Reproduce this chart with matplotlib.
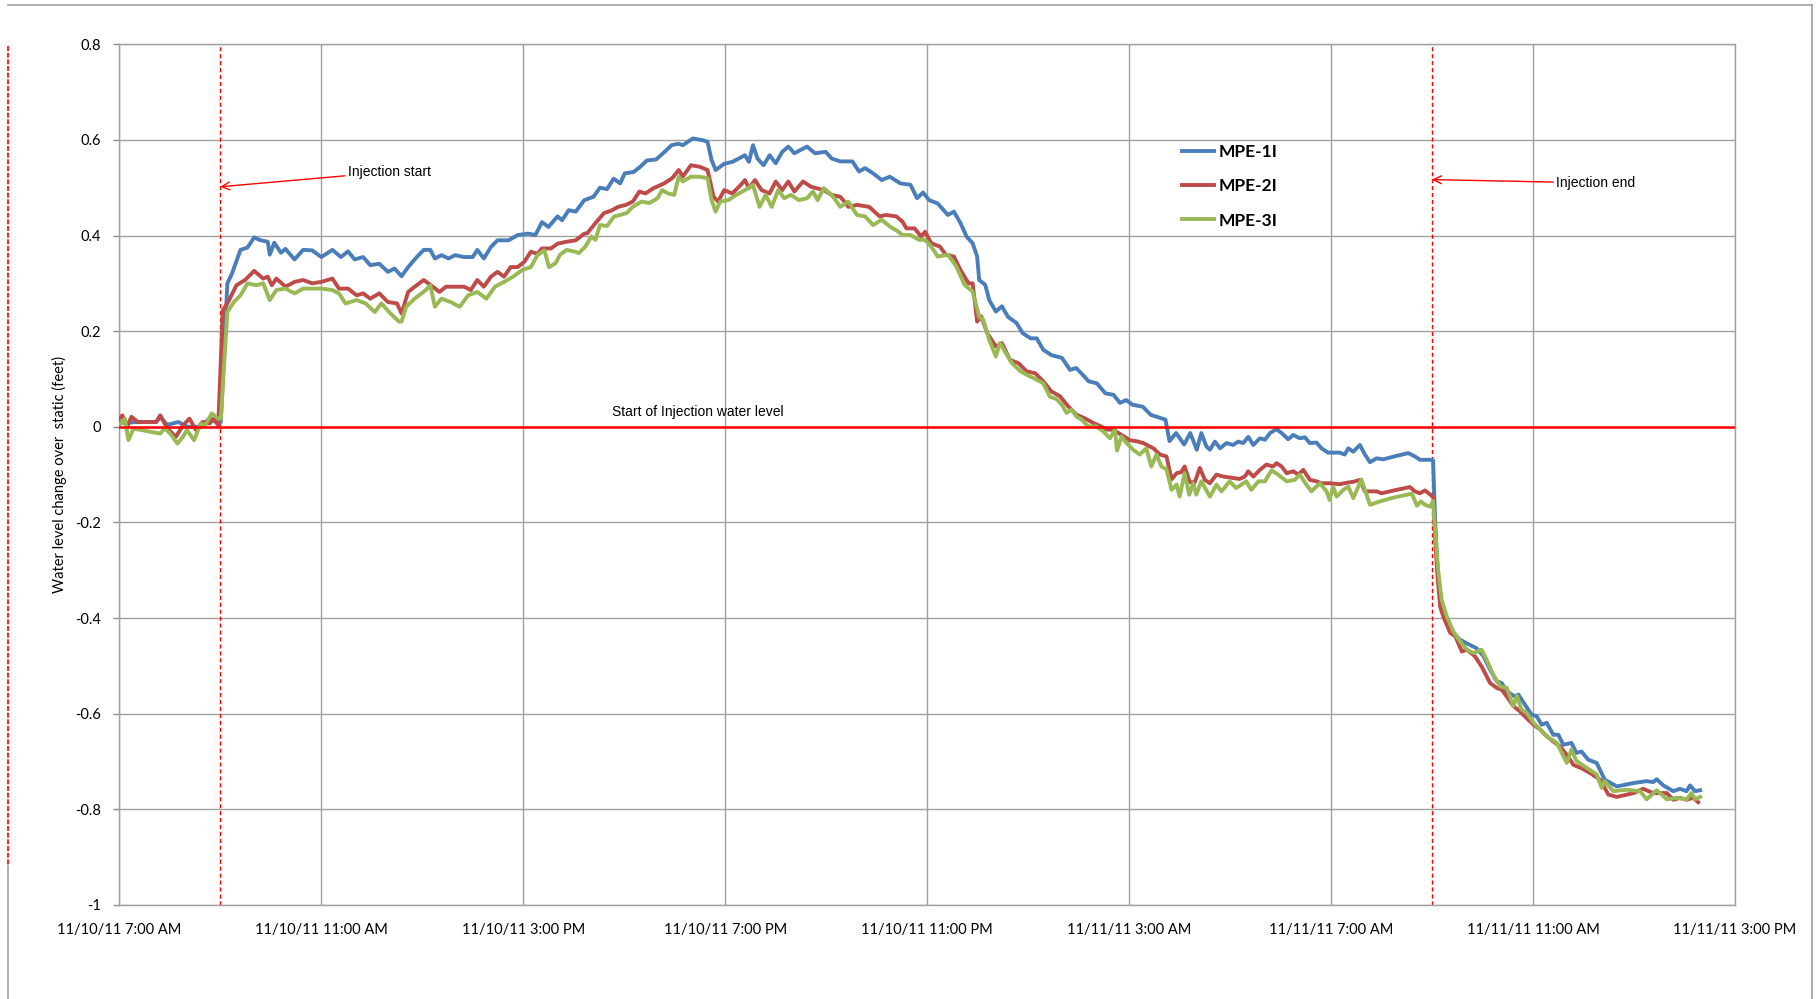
import matplotlib
matplotlib.use("Agg")
import matplotlib.pyplot as plt
import matplotlib.dates as mdates
from matplotlib.lines import Line2D
import numpy as np
import pandas as pd

# hours after 11/10/11 7:00 AM
start = pd.Timestamp("2011-11-10 07:00")

mpe1_hours = [0.00, 0.15, 0.28, 0.73, 0.81, 0.95, 1.17, 1.35, 1.61, 1.79, 1.96, 2.01, 2.14, 2.23, 2.40, 2.54, 2.67, 2.80, 2.94, 2.98, 3.07, 3.20, 3.29, 3.47, 3.64, 3.82, 4.00, 4.22, 4.39, 4.53, 4.66, 4.83, 4.97, 5.15, 5.32, 5.45, 5.59, 5.72, 5.90, 6.03, 6.16, 6.25, 6.38, 6.52, 6.65, 6.83, 7.00, 7.09, 7.22, 7.36, 7.49, 7.71, 7.89, 8.10, 8.24, 8.37, 8.50, 8.68, 8.77, 8.90, 9.04, 9.21, 9.39, 9.52, 9.66, 9.79, 9.92, 10.01, 10.19, 10.32, 10.45, 10.63, 10.80, 10.94, 11.07, 11.16, 11.36, 11.57, 11.65, 11.73, 11.81, 11.98, 12.14, 12.27, 12.39, 12.47, 12.55, 12.64, 12.76, 12.88, 13.00, 13.13, 13.25, 13.37, 13.62, 13.78, 13.99, 14.11, 14.28, 14.52, 14.65, 14.77, 14.93, 15.10, 15.26, 15.47, 15.67, 15.80, 15.92, 16.04, 16.21, 16.41, 16.53, 16.66, 16.78, 16.90, 16.99, 17.03, 17.15, 17.23, 17.36, 17.48, 17.60, 17.77, 17.89, 18.05, 18.17, 18.30, 18.46, 18.67, 18.83, 18.95, 19.08, 19.20, 19.36, 19.53, 19.69, 19.82, 19.94, 20.07, 20.27, 20.43, 20.72, 20.80, 20.93, 21.09, 21.21, 21.34, 21.43, 21.53, 21.60, 21.70, 21.80, 21.93, 22.06, 22.16, 22.26, 22.36, 22.46, 22.59, 22.69, 22.79, 22.92, 23.02, 23.15, 23.25, 23.38, 23.48, 23.58, 23.71, 23.81, 23.94, 24.17, 24.27, 24.34, 24.44, 24.57, 24.67, 24.77, 24.90, 25.03, 25.29, 25.53, 25.66, 25.76, 25.99, 26.02, 26.06, 26.09, 26.12, 26.19, 26.29, 26.42, 26.55, 26.69, 26.88, 27.02, 27.15, 27.28, 27.38, 27.48, 27.64, 27.71, 27.84, 27.97, 28.07, 28.17, 28.27, 28.40, 28.50, 28.60, 28.76, 28.86, 28.96, 29.09, 29.26, 29.42, 29.66, 29.99, 30.25, 30.38, 30.45, 30.58, 30.78, 30.91, 31.04, 31.11, 31.21, 31.31]
mpe1_vals = [0.010, 0.007, 0.010, 0.010, 0.021, 0.004, 0.010, 0.000, 0.000, 0.018, 0.007, 0.010, 0.300, 0.320, 0.370, 0.375, 0.396, 0.390, 0.387, 0.360, 0.385, 0.364, 0.372, 0.350, 0.370, 0.369, 0.355, 0.370, 0.355, 0.367, 0.350, 0.355, 0.338, 0.341, 0.324, 0.331, 0.315, 0.334, 0.356, 0.370, 0.370, 0.352, 0.359, 0.352, 0.359, 0.355, 0.355, 0.370, 0.352, 0.376, 0.390, 0.390, 0.401, 0.404, 0.401, 0.428, 0.418, 0.440, 0.432, 0.453, 0.450, 0.474, 0.481, 0.500, 0.497, 0.519, 0.509, 0.530, 0.533, 0.544, 0.557, 0.559, 0.575, 0.589, 0.592, 0.589, 0.603, 0.599, 0.596, 0.558, 0.537, 0.550, 0.554, 0.561, 0.568, 0.554, 0.589, 0.561, 0.547, 0.568, 0.551, 0.575, 0.586, 0.572, 0.586, 0.572, 0.575, 0.561, 0.555, 0.555, 0.534, 0.541, 0.530, 0.516, 0.523, 0.509, 0.506, 0.478, 0.490, 0.474, 0.467, 0.443, 0.450, 0.426, 0.398, 0.384, 0.356, 0.307, 0.297, 0.265, 0.241, 0.252, 0.230, 0.217, 0.196, 0.185, 0.185, 0.161, 0.150, 0.144, 0.119, 0.123, 0.109, 0.095, 0.091, 0.070, 0.067, 0.050, 0.056, 0.046, 0.042, 0.025, 0.015, -0.030, -0.013, -0.037, -0.013, -0.048, -0.013, -0.041, -0.048, -0.031, -0.045, -0.034, -0.038, -0.031, -0.034, -0.021, -0.038, -0.024, -0.027, -0.013, -0.005, -0.013, -0.026, -0.017, -0.024, -0.022, -0.034, -0.033, -0.045, -0.054, -0.054, -0.058, -0.045, -0.052, -0.038, -0.058, -0.074, -0.066, -0.068, -0.061, -0.055, -0.062, -0.069, -0.069, -0.070, -0.194, -0.264, -0.313, -0.376, -0.403, -0.431, -0.445, -0.453, -0.463, -0.480, -0.508, -0.532, -0.536, -0.553, -0.564, -0.560, -0.581, -0.602, -0.605, -0.623, -0.619, -0.644, -0.644, -0.665, -0.661, -0.682, -0.679, -0.696, -0.703, -0.738, -0.752, -0.745, -0.741, -0.743, -0.737, -0.750, -0.762, -0.757, -0.762, -0.750, -0.762, -0.760]

mpe2_hours = [0.00, 0.06, 0.15, 0.24, 0.37, 0.73, 0.81, 0.95, 1.12, 1.26, 1.39, 1.52, 1.65, 1.79, 1.87, 1.96, 2.05, 2.14, 2.32, 2.49, 2.67, 2.85, 2.94, 3.02, 3.11, 3.29, 3.47, 3.64, 3.82, 4.00, 4.22, 4.35, 4.53, 4.70, 4.83, 4.97, 5.15, 5.32, 5.50, 5.59, 5.72, 5.85, 6.03, 6.21, 6.34, 6.47, 6.65, 6.83, 6.96, 7.09, 7.22, 7.36, 7.49, 7.62, 7.75, 7.89, 8.02, 8.15, 8.28, 8.37, 8.55, 8.68, 8.86, 9.04, 9.21, 9.27, 9.43, 9.60, 9.74, 9.88, 10.03, 10.17, 10.30, 10.42, 10.58, 10.79, 10.95, 11.08, 11.16, 11.32, 11.49, 11.65, 11.77, 11.86, 11.98, 12.14, 12.31, 12.39, 12.47, 12.59, 12.72, 12.88, 13.00, 13.13, 13.25, 13.37, 13.54, 13.70, 13.95, 14.11, 14.28, 14.36, 14.44, 14.61, 14.85, 15.06, 15.18, 15.39, 15.51, 15.59, 15.75, 15.88, 15.96, 16.08, 16.25, 16.37, 16.53, 16.66, 16.82, 16.90, 16.99, 17.07, 17.19, 17.36, 17.48, 17.64, 17.81, 17.97, 18.14, 18.30, 18.46, 18.63, 18.79, 18.96, 19.12, 19.29, 19.42, 19.57, 19.68, 19.88, 20.01, 20.14, 20.28, 20.48, 20.61, 20.74, 20.84, 20.94, 21.03, 21.10, 21.20, 21.30, 21.40, 21.50, 21.60, 21.73, 21.86, 22.06, 22.19, 22.29, 22.36, 22.46, 22.59, 22.72, 22.85, 22.92, 23.02, 23.12, 23.25, 23.35, 23.45, 23.58, 23.71, 23.81, 23.97, 24.17, 24.31, 24.44, 24.57, 24.67, 24.90, 25.00, 25.29, 25.56, 25.66, 25.76, 25.86, 25.99, 26.03, 26.06, 26.10, 26.16, 26.22, 26.36, 26.46, 26.59, 26.69, 26.85, 26.98, 27.15, 27.28, 27.38, 27.48, 27.61, 27.74, 27.87, 28.01, 28.14, 28.27, 28.40, 28.53, 28.67, 28.80, 28.96, 29.13, 29.33, 29.49, 29.66, 29.99, 30.18, 30.38, 30.65, 30.78, 30.91, 31.04, 31.17, 31.27]
mpe2_vals = [0.017, 0.024, 0.000, 0.021, 0.010, 0.010, 0.024, -0.003, -0.021, 0.003, 0.017, -0.007, 0.010, 0.007, 0.017, 0.003, 0.244, 0.258, 0.296, 0.307, 0.326, 0.310, 0.314, 0.296, 0.310, 0.293, 0.303, 0.307, 0.300, 0.303, 0.310, 0.289, 0.289, 0.275, 0.279, 0.268, 0.279, 0.261, 0.258, 0.237, 0.282, 0.293, 0.307, 0.293, 0.282, 0.293, 0.293, 0.293, 0.286, 0.307, 0.293, 0.314, 0.324, 0.314, 0.334, 0.334, 0.345, 0.366, 0.362, 0.373, 0.373, 0.383, 0.387, 0.390, 0.404, 0.405, 0.426, 0.447, 0.452, 0.460, 0.464, 0.471, 0.492, 0.488, 0.499, 0.509, 0.520, 0.537, 0.523, 0.547, 0.544, 0.537, 0.481, 0.471, 0.495, 0.488, 0.506, 0.516, 0.499, 0.516, 0.495, 0.488, 0.513, 0.495, 0.513, 0.492, 0.513, 0.502, 0.495, 0.485, 0.481, 0.471, 0.460, 0.464, 0.460, 0.440, 0.443, 0.440, 0.429, 0.415, 0.415, 0.398, 0.408, 0.384, 0.377, 0.360, 0.356, 0.328, 0.300, 0.300, 0.220, 0.231, 0.196, 0.168, 0.175, 0.140, 0.133, 0.116, 0.112, 0.095, 0.074, 0.064, 0.043, 0.025, 0.018, 0.008, 0.002, -0.006, -0.006, -0.019, -0.028, -0.030, -0.034, -0.045, -0.058, -0.062, -0.110, -0.097, -0.095, -0.083, -0.116, -0.116, -0.086, -0.111, -0.118, -0.100, -0.104, -0.107, -0.109, -0.104, -0.093, -0.104, -0.090, -0.079, -0.083, -0.076, -0.083, -0.097, -0.093, -0.100, -0.090, -0.111, -0.114, -0.118, -0.118, -0.120, -0.117, -0.115, -0.111, -0.135, -0.135, -0.139, -0.132, -0.126, -0.135, -0.139, -0.133, -0.144, -0.149, -0.230, -0.300, -0.376, -0.396, -0.431, -0.438, -0.470, -0.466, -0.480, -0.501, -0.536, -0.546, -0.550, -0.564, -0.584, -0.595, -0.609, -0.623, -0.633, -0.647, -0.658, -0.668, -0.686, -0.707, -0.714, -0.724, -0.738, -0.769, -0.774, -0.766, -0.757, -0.766, -0.766, -0.780, -0.776, -0.780, -0.776, -0.785]

mpe3_hours = [0.00, 0.11, 0.18, 0.28, 0.46, 0.64, 0.81, 0.90, 1.03, 1.15, 1.26, 1.34, 1.48, 1.61, 1.70, 1.83, 1.96, 2.01, 2.14, 2.27, 2.40, 2.54, 2.71, 2.85, 2.98, 3.11, 3.29, 3.47, 3.64, 4.00, 4.22, 4.35, 4.48, 4.70, 4.88, 5.06, 5.19, 5.37, 5.54, 5.59, 5.68, 5.85, 6.07, 6.16, 6.25, 6.38, 6.56, 6.74, 6.91, 7.09, 7.27, 7.44, 7.62, 7.80, 7.98, 8.15, 8.28, 8.42, 8.51, 8.64, 8.73, 8.86, 9.04, 9.10, 9.23, 9.35, 9.43, 9.52, 9.66, 9.80, 9.92, 10.05, 10.17, 10.34, 10.50, 10.66, 10.75, 10.87, 10.99, 11.08, 11.16, 11.32, 11.49, 11.65, 11.73, 11.81, 11.90, 12.06, 12.22, 12.39, 12.55, 12.68, 12.80, 12.92, 13.05, 13.17, 13.30, 13.46, 13.62, 13.74, 13.83, 13.95, 14.11, 14.28, 14.44, 14.61, 14.77, 14.93, 15.10, 15.26, 15.43, 15.51, 15.67, 15.84, 15.96, 16.08, 16.21, 16.41, 16.58, 16.74, 16.90, 17.03, 17.11, 17.23, 17.36, 17.44, 17.56, 17.68, 17.85, 17.97, 18.18, 18.30, 18.43, 18.56, 18.67, 18.76, 18.86, 18.96, 19.05, 19.19, 19.35, 19.49, 19.62, 19.72, 19.76, 19.85, 19.95, 20.08, 20.21, 20.34, 20.44, 20.54, 20.64, 20.74, 20.84, 20.94, 21.00, 21.10, 21.19, 21.27, 21.33, 21.43, 21.60, 21.73, 21.83, 21.99, 22.12, 22.32, 22.42, 22.56, 22.69, 22.82, 22.95, 23.12, 23.28, 23.38, 23.51, 23.61, 23.78, 23.91, 23.97, 24.04, 24.11, 24.24, 24.34, 24.44, 24.60, 24.77, 24.97, 25.20, 25.50, 25.60, 25.70, 25.78, 25.86, 25.96, 26.02, 26.06, 26.12, 26.19, 26.29, 26.42, 26.55, 26.69, 26.82, 26.98, 27.08, 27.21, 27.35, 27.48, 27.61, 27.68, 27.77, 27.87, 28.01, 28.14, 28.27, 28.47, 28.67, 28.76, 28.86, 29.06, 29.26, 29.36, 29.42, 29.59, 29.85, 30.12, 30.25, 30.45, 30.65, 30.84, 31.04, 31.14, 31.21, 31.31]
mpe3_vals = [0.003, 0.017, -0.028, -0.004, -0.007, -0.011, -0.014, -0.003, -0.017, -0.035, -0.021, -0.007, -0.028, 0.007, 0.003, 0.028, 0.017, 0.017, 0.240, 0.261, 0.275, 0.300, 0.296, 0.300, 0.265, 0.286, 0.289, 0.279, 0.289, 0.289, 0.286, 0.279, 0.258, 0.265, 0.258, 0.240, 0.258, 0.237, 0.220, 0.220, 0.251, 0.268, 0.286, 0.296, 0.251, 0.268, 0.261, 0.251, 0.275, 0.282, 0.268, 0.293, 0.303, 0.314, 0.328, 0.334, 0.359, 0.369, 0.334, 0.342, 0.360, 0.370, 0.366, 0.363, 0.377, 0.398, 0.391, 0.422, 0.420, 0.440, 0.443, 0.447, 0.460, 0.471, 0.468, 0.478, 0.495, 0.488, 0.485, 0.523, 0.513, 0.523, 0.523, 0.520, 0.474, 0.450, 0.471, 0.474, 0.485, 0.495, 0.506, 0.460, 0.485, 0.460, 0.495, 0.478, 0.485, 0.474, 0.478, 0.492, 0.474, 0.499, 0.485, 0.460, 0.471, 0.443, 0.440, 0.422, 0.433, 0.419, 0.408, 0.401, 0.401, 0.391, 0.391, 0.377, 0.356, 0.360, 0.335, 0.297, 0.283, 0.230, 0.224, 0.182, 0.147, 0.175, 0.154, 0.133, 0.116, 0.109, 0.098, 0.091, 0.063, 0.058, 0.046, 0.029, 0.036, 0.021, 0.016, 0.001, 0.001, -0.010, -0.024, -0.006, -0.050, -0.020, -0.034, -0.048, -0.058, -0.045, -0.083, -0.058, -0.083, -0.089, -0.132, -0.121, -0.146, -0.097, -0.142, -0.118, -0.142, -0.114, -0.146, -0.121, -0.135, -0.114, -0.128, -0.114, -0.132, -0.114, -0.114, -0.091, -0.100, -0.114, -0.111, -0.100, -0.121, -0.135, -0.118, -0.135, -0.153, -0.125, -0.146, -0.132, -0.125, -0.149, -0.110, -0.163, -0.156, -0.149, -0.142, -0.140, -0.165, -0.156, -0.163, -0.167, -0.155, -0.215, -0.299, -0.362, -0.396, -0.428, -0.448, -0.466, -0.473, -0.466, -0.487, -0.518, -0.543, -0.546, -0.584, -0.563, -0.591, -0.598, -0.619, -0.633, -0.647, -0.661, -0.703, -0.675, -0.699, -0.713, -0.727, -0.755, -0.741, -0.762, -0.759, -0.762, -0.779, -0.760, -0.779, -0.776, -0.779, -0.766, -0.779, -0.774]

series_names = ["MPE-1I", "MPE-2I", "MPE-3I"]
series_colors = ["#4A7EBB", "#BE4B48", "#98B954"]
injection_start_h = 2
injection_end_h = 26
y_ticks = [-1, -0.8, -0.6, -0.4, -0.2, 0, 0.2, 0.4, 0.6, 0.8]

TICK_FONT = ["Lato", "DejaVu Sans"]
NOTE_FONT = ["Liberation Sans Narrow", "Liberation Sans", "DejaVu Sans"]


def to_time(hours):
    return start + pd.to_timedelta(np.array(hours), unit="h")


fig = plt.figure(figsize=(18.16, 9.99), dpi=100)
ax = fig.add_axes([0.0657, 0.0941, 0.8897, 0.8616])

for hrs, vals, name, col in zip([mpe1_hours, mpe2_hours, mpe3_hours],
                                [mpe1_vals, mpe2_vals, mpe3_vals],
                                series_names, series_colors):
    ax.plot(to_time(hrs), vals, color=col, lw=2.8, label=name, zorder=3,
            solid_joinstyle="round")

# zero reference and injection markers
ax.axhline(0, color="#FF0000", lw=1.8, zorder=4)
for h in [injection_start_h, injection_end_h]:
    ax.axvline(to_time([h])[0], color="#FF0000", lw=1.0,
               linestyle=(0, (3, 2)), zorder=2)

ax.set_xlim(start, start + pd.Timedelta(hours=32))
ax.set_ylim(-1, 0.8)
ax.set_yticks(y_ticks)
ax.set_yticklabels([f"{v:g}" for v in y_ticks], family=TICK_FONT, fontsize=10.5)
ax.xaxis.set_major_locator(mdates.HourLocator(byhour=[3, 7, 11, 15, 19, 23]))
ax.xaxis.set_major_formatter(mdates.DateFormatter("%m/%d/%y %-I:%M %p"))
for lab in ax.get_xticklabels():
    lab.set_family(TICK_FONT)
    lab.set_fontsize(10.5)
ax.tick_params(axis="x", length=0, pad=13)
ax.tick_params(axis="y", length=4, width=1, color="#8c8c8c", pad=9)
ax.grid(True, color="#a0a0a0", lw=1.0, zorder=0)
for sp in ax.spines.values():
    sp.set_color("#a0a0a0")
    sp.set_linewidth(1.0)

ax.set_ylabel("Water level change over  static (feet)", family=TICK_FONT,
              fontsize=10.5, labelpad=6)

leg = ax.legend(loc="upper left", bbox_to_anchor=(0.658, 0.884), frameon=False,
                handlelength=1.8, handletextpad=0.3, labelspacing=1.05,
                borderpad=0, borderaxespad=0,
                prop={"family": TICK_FONT, "weight": "bold", "size": 12.5})

# annotations
arrow = dict(arrowstyle="->", color="#FF0000", lw=1.0, shrinkA=0, shrinkB=0,
             mutation_scale=14)
ax.annotate("Injection start", xy=(to_time([injection_start_h])[0], 0.502),
            xytext=(to_time([4.52])[0], 0.533), va="center", ha="left",
            family=NOTE_FONT, fontsize=10, arrowprops=arrow)
ax.annotate("Injection end", xy=(to_time([injection_end_h])[0], 0.517),
            xytext=(to_time([28.45])[0], 0.510), va="center", ha="left",
            family=NOTE_FONT, fontsize=10, arrowprops=arrow)
ax.text(to_time([9.75])[0], 0.03, "Start of Injection water level",
        family=NOTE_FONT, fontsize=10, va="center", ha="left")

# outer frame of the original sheet
W, H = 1816, 999
def fline(x0, y0, x1, y1, **kw):
    fig.add_artist(Line2D([x0 / W, x1 / W], [1 - y0 / H, 1 - y1 / H],
                          transform=fig.transFigure, **kw))

fline(8, 5, 1812, 5, color="#a0a0a0", lw=1.2)
fline(1812, 5, 1812, 999, color="#a0a0a0", lw=1.2)
fline(8, 866, 8, 999, color="#a0a0a0", lw=1.2)
fline(8, 46, 8, 866, color="#FF0000", lw=1.2, linestyle=(0, (3, 1)))

fig.savefig("out.png", dpi=100)
